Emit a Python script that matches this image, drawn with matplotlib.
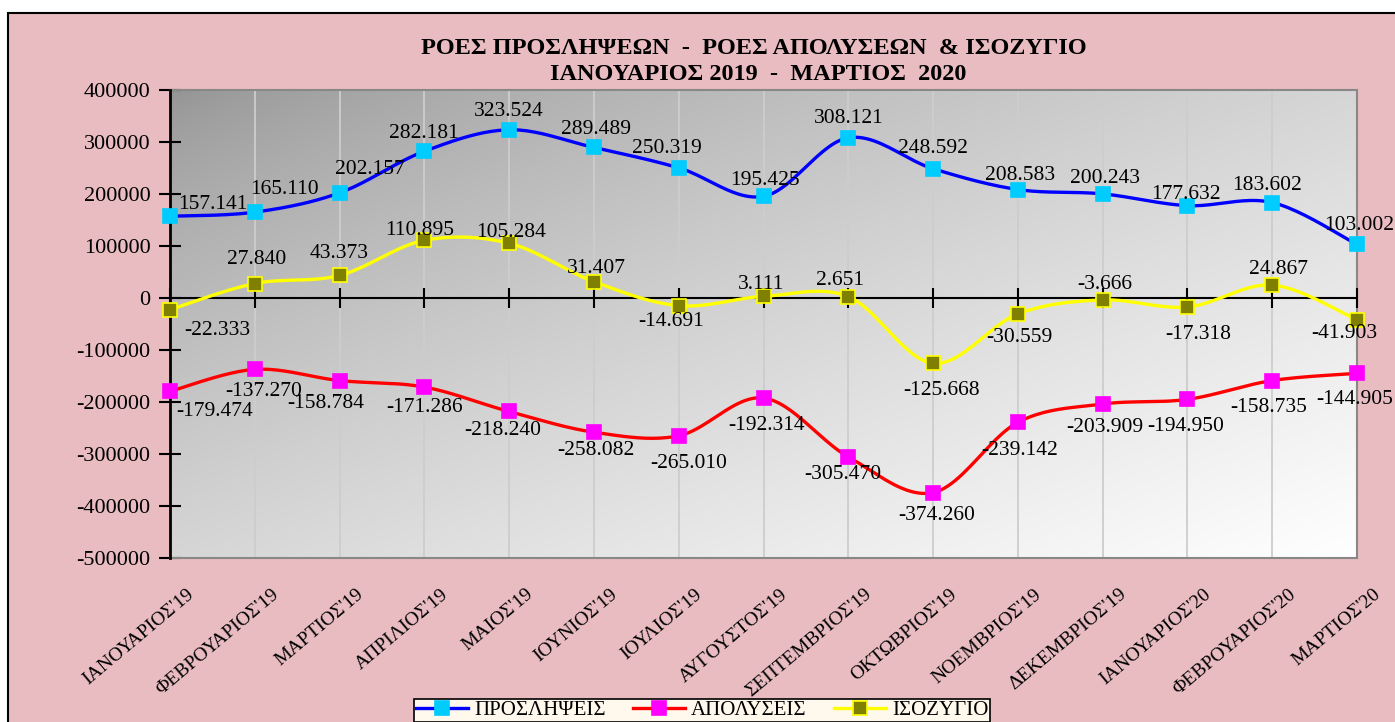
import matplotlib.pyplot as plt
import numpy as np
from matplotlib.patches import Rectangle
from matplotlib.transforms import ScaledTranslation

plt.rcParams['font.family'] = ['Liberation Serif', 'DejaVu Serif']

months = ["ΙΑΝΟΥΑΡΙΟΣ'19", "ΦΕΒΡΟΥΑΡΙΟΣ'19", "ΜΑΡΤΙΟΣ'19", "ΑΠΡΙΛΙΟΣ'19",
          "ΜΑΙΟΣ'19", "ΙΟΥΝΙΟΣ'19", "ΙΟΥΛΙΟΣ'19", "ΑΥΓΟΥΣΤΟΣ'19",
          "ΣΕΠΤΕΜΒΡΙΟΣ'19", "ΟΚΤΩΒΡΙΟΣ'19", "ΝΟΕΜΒΡΙΟΣ'19", "ΔΕΚΕΜΒΡΙΟΣ'19",
          "ΙΑΝΟΥΑΡΙΟΣ'20", "ΦΕΒΡΟΥΑΡΙΟΣ'20", "ΜΑΡΤΙΟΣ'20"]
hires = [157141, 165110, 202157, 282181, 323524, 289489, 250319, 195425,
         308121, 248592, 208583, 200243, 177632, 183602, 103002]
exits = [-179474, -137270, -158784, -171286, -218240, -258082, -265010, -192314,
         -305470, -374260, -239142, -203909, -194950, -158735, -144905]
balance = [-22333, 27840, 43373, 110895, 105284, 31407, -14691, 3111,
           2651, -125668, -30559, -3666, -17318, 24867, -41903]
yticks = list(range(-500000, 400001, 100000))

# label offsets in pixels (dx, dy)
off_hires = [(43, 12), (30, 23), (30, 23), (0, 18), (0, 18), (2, 18), (-12, 19), (1, 16),
             (0, 19), (0, 20), (2, 14), (2, 15), (-2, 11), (-5, 17), (2, 19)]
off_bal = [(47, -21), (2, 24), (0, 22), (-5, 10), (2, 11), (2, 13), (-8, -16), (-2, 12),
           (-8, 16), (8, -27), (2, -24), (2, 15), (11, -27), (6, 16), (-13, -14)]
off_exits = [(45, -20), (9, -22), (-14, -23), (0, -20), (-6, -19), (2, -18), (10, -28), (3, -27),
             (-5, -18), (4, -23), (2, -28), (2, -23), (-2, -27), (-4, -27), (-2, -26)]


def smooth(x, y, n=24):
    # catmull-rom as cubic bezier, like the spreadsheet smoothed line
    p = np.column_stack([x, y]).astype(float)
    ext = np.vstack([p[0], p, p[-1]])
    out = []
    t = np.linspace(0, 1, n)[:, None]
    for i in range(len(p) - 1):
        p0, p3 = ext[i + 1], ext[i + 2]
        c1 = p0 + (ext[i + 2] - ext[i]) / 6
        c2 = p3 - (ext[i + 3] - ext[i + 1]) / 6
        seg = (1 - t) ** 3 * p0 + 3 * (1 - t) ** 2 * t * c1 + 3 * (1 - t) * t ** 2 * c2 + t ** 3 * p3
        out.append(seg if i == 0 else seg[1:])
    s = np.vstack(out)
    return s[:, 0], s[:, 1]


fig = plt.figure(figsize=(13.95, 7.22), dpi=100)
fig.patch.set_facecolor('white')
fig.patches.append(Rectangle((8 / 1395, -0.05), 1.1, 1.05 - 13 / 722, transform=fig.transFigure,
                             facecolor='#e8bcc1', edgecolor='black', lw=1.5, zorder=-10))

ax = fig.add_axes([170 / 1395, 1 - 558 / 722, (1357 - 170) / 1395, (558 - 90) / 722])
ax.set_facecolor('none')

# diagonal gradient of the plot area
u = np.linspace(0, 1, 300)[None, :]
v = np.linspace(0, 1, 200)[:, None]
tt = ((u + v) / 2) ** 0.7
g = (147 + 108 * tt) / 255
ax.imshow(np.dstack([g, g, g]), extent=[0, 1, 0, 1], transform=ax.transAxes,
          aspect='auto', zorder=0, origin='upper')

x = np.arange(len(months))

# zero line with category ticks
ax.axhline(0, color='black', lw=1.5, zorder=3)
ax.plot(x, np.zeros(len(x)), ls='', marker='|', ms=15, mew=1.5, color='black', zorder=3,
        clip_on=False)

series = [
    (hires, '#0000ff', '#00ccff', '#00ccff', off_hires, 'ΠΡΟΣΛΗΨΕΙΣ'),
    (exits, '#ff0000', '#ff00ff', '#ff00ff', off_exits, 'ΑΠΟΛΥΣΕΙΣ'),
    (balance, '#ffff00', '#808000', '#ffff00', off_bal, 'ΙΣΟΖΥΓΙΟ'),
]
handles = []
for vals, lc, mfc, mec, offs, name in series:
    sx, sy = smooth(x, vals)
    ax.plot(sx, sy, color=lc, lw=2.4, zorder=4, solid_capstyle='round')
    ax.plot(x, vals, ls='', marker='s', ms=9.5, mfc=mfc, mec=mec, mew=1.2, zorder=5,
            clip_on=False)
    h, = ax.plot([], [], color=lc, lw=2.4, marker='s', ms=9.5, mfc=mfc, mec=mec, mew=1.2)
    handles.append((h, name))
    for xi, val, (dx, dy) in zip(x, vals, offs):
        lab = f"{val:,}".replace(',', '.')
        ax.annotate(lab, (xi, val), xytext=(dx, dy), textcoords='offset pixels',
                    ha='center', va='center', fontsize=15.5, zorder=6, annotation_clip=False)

ax.set_xlim(0, len(months) - 1)
ax.set_ylim(-500000, 400000)
ax.set_yticks(yticks)
ax.set_yticklabels([str(t) for t in yticks])
ax.tick_params(axis='y', direction='inout', length=16, width=1.5, labelsize=16, pad=6)

ax.set_xticks(x)
ax.set_xticklabels(months, rotation=40, ha='right', va='top', rotation_mode='anchor', fontsize=14)
ax.tick_params(axis='x', length=0, pad=20)
shift = ScaledTranslation(16 / 100, 0, fig.dpi_scale_trans)
for lbl in ax.get_xticklabels():
    lbl.set_transform(lbl.get_transform() + shift)
ax.grid(axis='x', color='#cdcdcd', lw=1.3, zorder=1)
ax.set_axisbelow(True)

for s in ['top', 'right', 'bottom']:
    ax.spines[s].set_color('#888888')
    ax.spines[s].set_linewidth(1.5)
ax.spines['left'].set_color('black')
ax.spines['left'].set_linewidth(2)
ax.spines['left'].set_zorder(3)

fig.text(754 / 1395, 1 - 48 / 722, "ΡΟΕΣ ΠΡΟΣΛΗΨΕΩΝ  -  ΡΟΕΣ ΑΠΟΛΥΣΕΩΝ  & ΙΣΟΖΥΓΙΟ",
         ha='center', va='center', fontsize=17.5, fontweight='bold')
fig.text(758 / 1395, 1 - 74 / 722, "ΙΑΝΟΥΑΡΙΟΣ 2019  -  ΜΑΡΤΙΟΣ  2020",
         ha='center', va='center', fontsize=17.5, fontweight='bold')

leg = ax.legend([h for h, _ in handles], [n for _, n in handles], loc='upper center',
                bbox_to_anchor=(702 / 1395, 1 - 699 / 722), bbox_transform=fig.transFigure,
                ncol=3, fontsize=15, frameon=True, fancybox=False, facecolor='#fff8ec',
                edgecolor='black', framealpha=1, handlelength=2.5, columnspacing=1.3,
                handletextpad=0.3, borderpad=0.1, borderaxespad=0, handleheight=0.6)
leg.get_frame().set_linewidth(1.2)

fig.savefig('out.png', dpi=100)
